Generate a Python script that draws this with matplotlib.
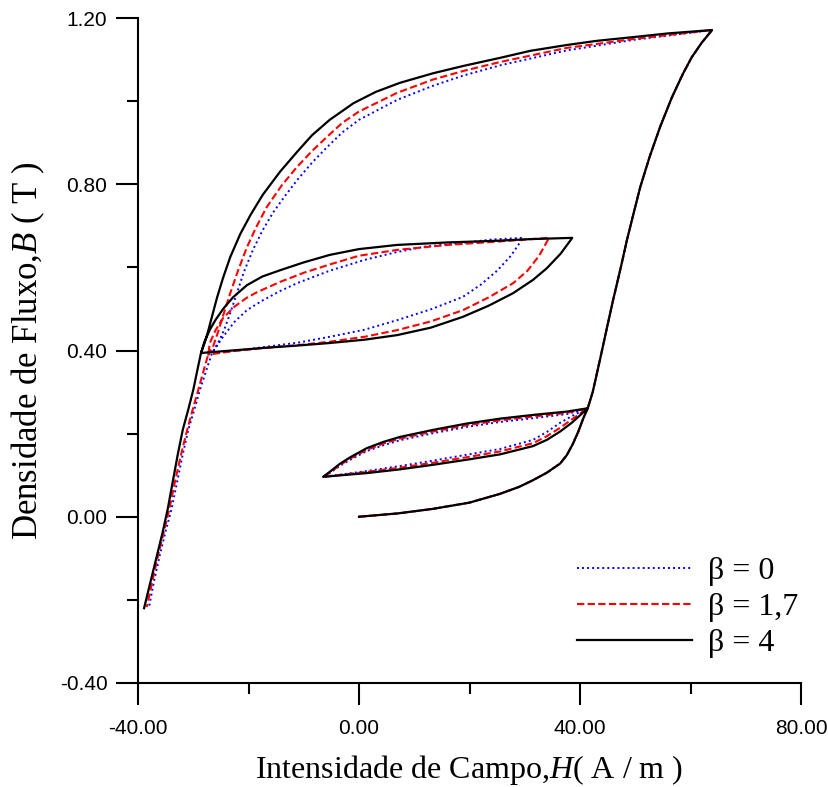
import matplotlib
matplotlib.use("Agg")
import matplotlib.pyplot as plt

plt.rcParams["mathtext.fontset"] = "custom"
plt.rcParams["mathtext.rm"] = "Liberation Serif"
plt.rcParams["mathtext.it"] = "Liberation Serif:italic"

# --- digitised branches (H in A/m, B in T) ---
# common to all beta: initial curve and steep ascending branch
init_h = [0, 7, 13.4, 20, 25.5, 29, 31.5, 34, 36.4, 37.6, 38.7, 39.7, 40.6, 41.4]
init_b = [0, 0.008, 0.019, 0.034, 0.055, 0.072, 0.088, 0.106, 0.128, 0.148, 0.175, 0.205, 0.237, 0.261]

rise_h = [41.4, 42.3, 43.6, 44.8, 46.0, 47.3, 48.5, 49.7, 50.9, 52.6, 54.5, 56.6, 58.6, 60.2, 62.0, 63.9]
rise_b = [0.261, 0.300, 0.377, 0.450, 0.522, 0.595, 0.666, 0.730, 0.793, 0.866, 0.938, 1.008, 1.065, 1.105, 1.140, 1.171]

# small loop, descending branch
sdown_h = [41.4, 37.6, 31.5, 25.5, 19.4, 13.4, 7.4, 4.4, 1.4, -1.6, -3.5, -5.2, -6.5]
sdown_b4 = [0.261, 0.253, 0.245, 0.236, 0.224, 0.209, 0.192, 0.180, 0.165, 0.143, 0.127, 0.109, 0.096]
sdown_b17 = [0.261, 0.250, 0.241, 0.232, 0.220, 0.205, 0.188, 0.176, 0.161, 0.140, 0.124, 0.107, 0.096]
sdown_b0 = [0.261, 0.247, 0.237, 0.228, 0.216, 0.201, 0.184, 0.172, 0.158, 0.137, 0.122, 0.106, 0.096]

# small loop, ascending branch
sup_h = [-6.5, -3, 1.4, 7.4, 13.4, 19.4, 25.5, 31.5, 34, 36.4, 38.5, 40, 41.4]
sup_b4 = [0.096, 0.100, 0.105, 0.114, 0.125, 0.137, 0.150, 0.170, 0.185, 0.205, 0.226, 0.244, 0.261]
sup_b17 = [0.096, 0.101, 0.108, 0.118, 0.130, 0.143, 0.157, 0.177, 0.194, 0.214, 0.234, 0.248, 0.261]
sup_b0 = [0.096, 0.102, 0.110, 0.122, 0.135, 0.149, 0.163, 0.185, 0.204, 0.226, 0.242, 0.252, 0.261]

# major descending branch
mdown_h4 = [63.9, 56, 49.6, 43, 37.6, 31, 25.5, 19, 13.4, 7.4, 3, -1, -5.3, -8.5, -11.2, -14.3, -17.4,
            -19.6, -21.5, -23.3, -24.6, -25.7, -26.6, -27.4, -28.0, -28.6]
mdown_b4 = [1.171, 1.163, 1.154, 1.145, 1.135, 1.121, 1.104, 1.085, 1.067, 1.044, 1.022, 0.995, 0.955, 0.918,
            0.878, 0.830, 0.775, 0.727, 0.680, 0.625, 0.575, 0.527, 0.482, 0.442, 0.416, 0.394]
mdown_h17 = [63.9, 50, 37.6, 25.5, 19, 13.4, 6.9, 0, -3, -5.8, -8.5, -11.2, -14, -16.7, -18.6, -20.3,
             -21.9, -23.3, -24.5, -25.5, -26.4, -27.3]
mdown_b17 = [1.171, 1.150, 1.128, 1.094, 1.073, 1.052, 1.020, 0.975, 0.948, 0.914, 0.880, 0.842, 0.797,
             0.745, 0.697, 0.648, 0.592, 0.538, 0.488, 0.445, 0.410, 0.390]
mdown_h0 = [63.9, 50, 37.6, 25.5, 19, 13.4, 6.9, 0, -3, -5.8, -8.5, -11.2, -13.5, -15.6, -17.5, -19.2,
            -20.8, -22.1, -23.3, -24.4, -25.5, -26.6]
mdown_b0 = [1.171, 1.148, 1.122, 1.086, 1.062, 1.037, 1.003, 0.955, 0.925, 0.889, 0.852, 0.810, 0.770,
            0.731, 0.688, 0.642, 0.590, 0.538, 0.490, 0.450, 0.418, 0.394]

# middle loop, ascending branch
mid_up_h4 = [-28.6, -23, -17.4, -11, -5.3, 1, 6.9, 13, 18.8, 23.5, 27.9, 31.5, 34.0, 36.5, 38.6]
mid_up_b4 = [0.394, 0.400, 0.406, 0.412, 0.418, 0.426, 0.437, 0.455, 0.481, 0.508, 0.538, 0.570, 0.598, 0.633, 0.671]
mid_up_h17 = [-27.3, -23, -17.4, -11, -5.3, 1, 6.9, 13, 18.8, 23.5, 27.9, 30.5, 32.6, 34.4]
mid_up_b17 = [0.390, 0.398, 0.406, 0.413, 0.421, 0.433, 0.449, 0.470, 0.497, 0.528, 0.562, 0.592, 0.628, 0.671]
mid_up_h0 = [-26.6, -22, -17.4, -11, -5.3, 1, 6.9, 13, 18.8, 22, 25, 27.5, 29.7]
mid_up_b0 = [0.394, 0.400, 0.408, 0.419, 0.433, 0.450, 0.473, 0.499, 0.529, 0.558, 0.592, 0.628, 0.671]

# middle loop, descending branch
mid_dn_h4 = [38.6, 31, 25.0, 16, 6.9, 0, -5.3, -10, -14.3, -17.5, -20.3, -22.8, -24.6, -26.0, -27.0, -28.0, -28.6]
mid_dn_b4 = [0.671, 0.668, 0.664, 0.660, 0.654, 0.644, 0.630, 0.612, 0.593, 0.578, 0.557, 0.528, 0.500, 0.473, 0.450, 0.420, 0.394]
mid_dn_h17 = [34.4, 25, 16, 6.9, 0, -5.3, -10, -14.3, -18.5, -20.3, -22.6, -24.6, -26.0, -27.0, -27.3]
mid_dn_b17 = [0.671, 0.662, 0.654, 0.642, 0.628, 0.607, 0.587, 0.565, 0.540, 0.527, 0.505, 0.478, 0.448, 0.418, 0.390]
mid_dn_h0 = [29.7, 24, 18.8, 12, 6.9, 1, -5.3, -11.2, -14.3, -17.5, -20.3, -22.6, -24.6, -25.8, -26.6]
mid_dn_b0 = [0.671, 0.667, 0.659, 0.650, 0.637, 0.618, 0.592, 0.562, 0.543, 0.520, 0.497, 0.468, 0.433, 0.410, 0.394]

# final descent to negative saturation
tail_h4 = [-28.6, -29.3, -30.0, -30.9, -31.9, -32.8, -33.7, -34.6, -35.5, -36.6, -37.8, -38.9]
tail_b4 = [0.394, 0.350, 0.305, 0.258, 0.209, 0.150, 0.085, 0.020, -0.035, -0.095, -0.160, -0.220]
tail_h17 = [-27.3, -28.2, -29.1, -30.1, -31.1, -32.2, -33.3, -34.3, -35.3, -36.4, -37.4, -38.4]
tail_b17 = [0.390, 0.348, 0.305, 0.258, 0.209, 0.150, 0.085, 0.020, -0.035, -0.095, -0.155, -0.217]
tail_h0 = [-26.6, -27.7, -28.8, -29.8, -30.9, -31.9, -32.9, -33.9, -35.0, -36.1, -37.1, -38.0]
tail_b0 = [0.394, 0.350, 0.305, 0.258, 0.209, 0.150, 0.085, 0.020, -0.035, -0.095, -0.155, -0.217]

labels = ["β = 0", "β = 1,7", "β = 4"]


def path(parts):
    hs, bs = [], []
    for h, b in parts:
        hs += list(h)
        bs += list(b)
    return hs, bs


curves = {
    "0": path([(init_h, init_b), (sdown_h, sdown_b0), (sup_h, sup_b0), (rise_h, rise_b),
               (mdown_h0, mdown_b0), (mid_up_h0, mid_up_b0), (mid_dn_h0, mid_dn_b0), (tail_h0, tail_b0)]),
    "1.7": path([(init_h, init_b), (sdown_h, sdown_b17), (sup_h, sup_b17), (rise_h, rise_b),
                 (mdown_h17, mdown_b17), (mid_up_h17, mid_up_b17), (mid_dn_h17, mid_dn_b17), (tail_h17, tail_b17)]),
    "4": path([(init_h, init_b), (sdown_h, sdown_b4), (sup_h, sup_b4), (rise_h, rise_b),
               (mdown_h4, mdown_b4), (mid_up_h4, mid_up_b4), (mid_dn_h4, mid_dn_b4), (tail_h4, tail_b4)]),
}

fig = plt.figure(figsize=(8.29, 7.87), dpi=100)
ax = fig.add_axes([138 / 829, 1 - 683 / 787, 663 / 829, 665 / 787])

ax.plot(*curves["0"], color="blue", lw=1.4, linestyle=(0, (1, 1.6)), label=labels[0],
        dash_joinstyle="round")
ax.plot(*curves["1.7"], color="red", lw=1.5, linestyle=(0, (3.5, 1.6)), label=labels[1],
        dash_joinstyle="round")
ax.plot(*curves["4"], color="black", lw=1.6, label=labels[2], solid_joinstyle="round")

ax.set_xlim(-40, 80)
ax.set_ylim(-0.4, 1.2)
ax.set_xticks([-40, 0, 40, 80])
ax.set_xticks([-20, 20, 60], minor=True)
ax.set_yticks([-0.4, 0.0, 0.4, 0.8, 1.2])
ax.set_yticks([-0.2, 0.2, 0.6, 1.0], minor=True)
ax.set_xticklabels(["-40.00", "0.00", "40.00", "80.00"])
ax.set_yticklabels(["-0.40", "0.00", "0.40", "0.80", "1.20"])

for s in ["top", "right"]:
    ax.spines[s].set_visible(False)
for s in ["left", "bottom"]:
    ax.spines[s].set_linewidth(1.5)

ax.tick_params(which="major", length=16, width=1.5, direction="out")
ax.tick_params(which="minor", length=8, width=1.5, direction="out")
ax.tick_params(axis="x", which="major", pad=10, labelsize=15)
ax.tick_params(axis="y", which="major", pad=6, labelsize=15)
for t in ax.get_xticklabels() + ax.get_yticklabels():
    t.set_family("Liberation Sans")

ax.set_xlabel("Intensidade de Campo,$H$( A / m )", family="Liberation Serif", fontsize=23, labelpad=11)
ax.set_ylabel("Densidade de Fluxo,$B$ ( T )", family="Liberation Serif", fontsize=25, labelpad=9)

leg = ax.legend(loc="upper left", bbox_to_anchor=(577 / 829, 1 - 557 / 787),
                bbox_transform=fig.transFigure, frameon=False,
                prop={"family": "Liberation Serif", "size": 23},
                handlelength=3.6, handletextpad=0.5, labelspacing=0.2,
                borderpad=0, borderaxespad=0)

fig.savefig("out.png", dpi=100)
